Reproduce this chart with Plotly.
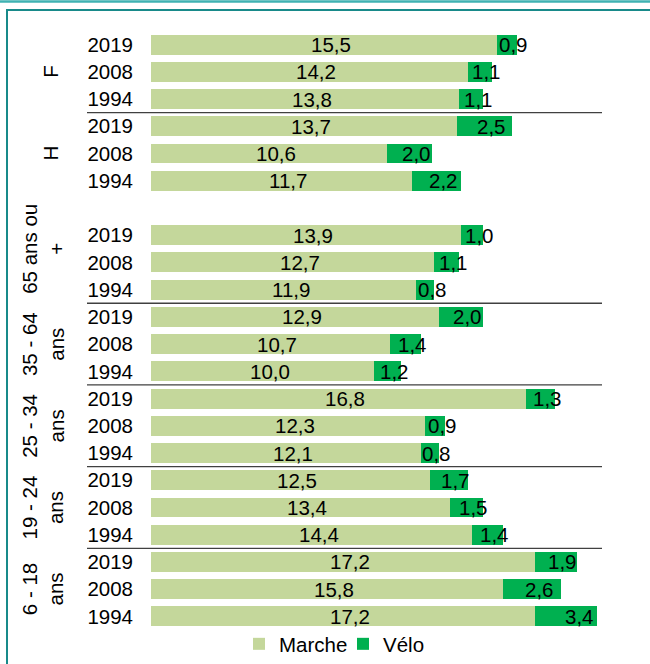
import plotly.graph_objects as go

groups = ["F", "H", "65 ans ou<br>+", "35 - 64<br>ans", "25 - 34<br>ans", "19 - 24<br>ans", "6 - 18<br>ans"]
years = ["2019", "2008", "1994"]
marche = [
    [15.5, 14.2, 13.8],
    [13.7, 10.6, 11.7],
    [13.9, 12.7, 11.9],
    [12.9, 10.7, 10.0],
    [16.8, 12.3, 12.1],
    [12.5, 13.4, 14.4],
    [17.2, 15.8, 17.2],
]
velo = [
    [0.9, 1.1, 1.1],
    [2.5, 2.0, 2.2],
    [1.0, 1.1, 0.8],
    [2.0, 1.4, 1.2],
    [1.3, 0.9, 0.8],
    [1.7, 1.5, 1.4],
    [1.9, 2.6, 3.4],
]
blank_before = [2]          # an empty row opens the "65 ans ou +" group
no_separator_before = [2]   # no divider line between H and 65 ans ou +

C_MARCHE = "#C4D79B"
C_VELO = "#00B050"
FONT = "Liberation Sans, Arial, sans-serif"
FS = 20.5

W, H = 650, 664
L, R, T, B = 151, 53, 31, 0
PLOT_BOTTOM = 630
pw, ph = W - L - R, H - T - B

def px_x(px):
    return (px - L) / pw

def px_y(py):
    return (H - B - py) / ph

ypos, yticks, ytext, mvals, vvals = [], [], [], [], []
group_rows = []
pos = 0
for gi, g in enumerate(groups):
    start = pos
    if gi in blank_before:
        pos += 1
    for yi, yr in enumerate(years):
        ypos.append(pos)
        yticks.append(pos)
        ytext.append(yr)
        mvals.append(marche[gi][yi])
        vvals.append(velo[gi][yi])
        pos += 1
    group_rows.append((start, pos - 1))
nrows = pos

fig = go.Figure()
fig.add_trace(go.Bar(y=ypos, x=mvals, orientation="h", name="Marche",
                     marker=dict(color=C_MARCHE, line=dict(width=0)), width=0.73))
fig.add_trace(go.Bar(y=ypos, x=vvals, orientation="h", name="Vélo",
                     marker=dict(color=C_VELO, line=dict(width=0)), width=0.73))

fmt = lambda v: f"{v:.1f}".replace(".", ",")
for y, m, v in zip(ypos, mvals, vvals):
    fig.add_annotation(x=m / 2, y=y, text=fmt(m), showarrow=False, xshift=7,
                       font=dict(family=FONT, size=FS, color="black"))
    fig.add_annotation(x=m + v / 2, y=y, text=fmt(v), showarrow=False, xshift=7,
                       font=dict(family=FONT, size=FS, color="black"))

for gi, (g, (s, e)) in enumerate(zip(groups, group_rows)):
    two = "<br>" in g
    fig.add_annotation(xref="paper", yref="y", x=px_x(43 if two else 51), y=(s + e) / 2,
                       text=g, showarrow=False, textangle=-90,
                       xanchor="center", yanchor="middle", align="center",
                       font=dict(family=FONT, size=FS, color="black"))

shapes = []
for gi, (s, e) in enumerate(group_rows):
    if gi == 0 or gi in no_separator_before:
        continue
    shapes.append(dict(type="line", xref="paper", yref="y", x0=px_x(87), x1=px_x(602),
                       y0=s - 0.5, y1=s - 0.5, line=dict(color="#404040", width=1.3)))

shapes.append(dict(type="line", xref="paper", yref="paper", x0=px_x(0), x1=px_x(650),
                   y0=px_y(1.5), y1=px_y(1.5), line=dict(color="#3FB2B2", width=2.5)))
shapes.append(dict(type="line", xref="paper", yref="paper", x0=px_x(6), x1=px_x(650),
                   y0=px_y(10), y1=px_y(10), line=dict(color="#188A8A", width=2)))
shapes.append(dict(type="line", xref="paper", yref="paper", x0=px_x(7), x1=px_x(7),
                   y0=px_y(9), y1=px_y(664), line=dict(color="#188A8A", width=2)))

fig.update_layout(
    width=W, height=H,
    autosize=False,
    margin=dict(l=L, r=R, t=T, b=B, pad=0),
    barmode="stack",
    bargap=0.27,
    paper_bgcolor="white",
    plot_bgcolor="white",
    font=dict(family=FONT, size=FS, color="black"),
    shapes=shapes,
    showlegend=True,
    legend=dict(orientation="h", x=px_x(343), y=0, xanchor="center", yanchor="bottom",
                font=dict(family=FONT, size=FS, color="black"), traceorder="normal",
                itemwidth=30, entrywidth=59, entrywidthmode="pixels",
                bgcolor="rgba(0,0,0,0)", borderwidth=0),
    xaxis=dict(range=[0, 20], showgrid=False, zeroline=False, showticklabels=False,
               showline=False, ticks=""),
    yaxis=dict(range=[nrows - 0.5, -0.5], domain=[px_y(PLOT_BOTTOM), 1],
               tickmode="array", tickvals=yticks, ticktext=ytext,
               showgrid=False, zeroline=False, showline=False, ticks="",
               ticklabelstandoff=17, tickfont=dict(family=FONT, size=FS, color="black")),
)

fig.write_html("out.html", config={"displayModeBar": False, "responsive": False},
               post_script="document.body.style.margin='0';document.body.style.overflow='hidden';")
